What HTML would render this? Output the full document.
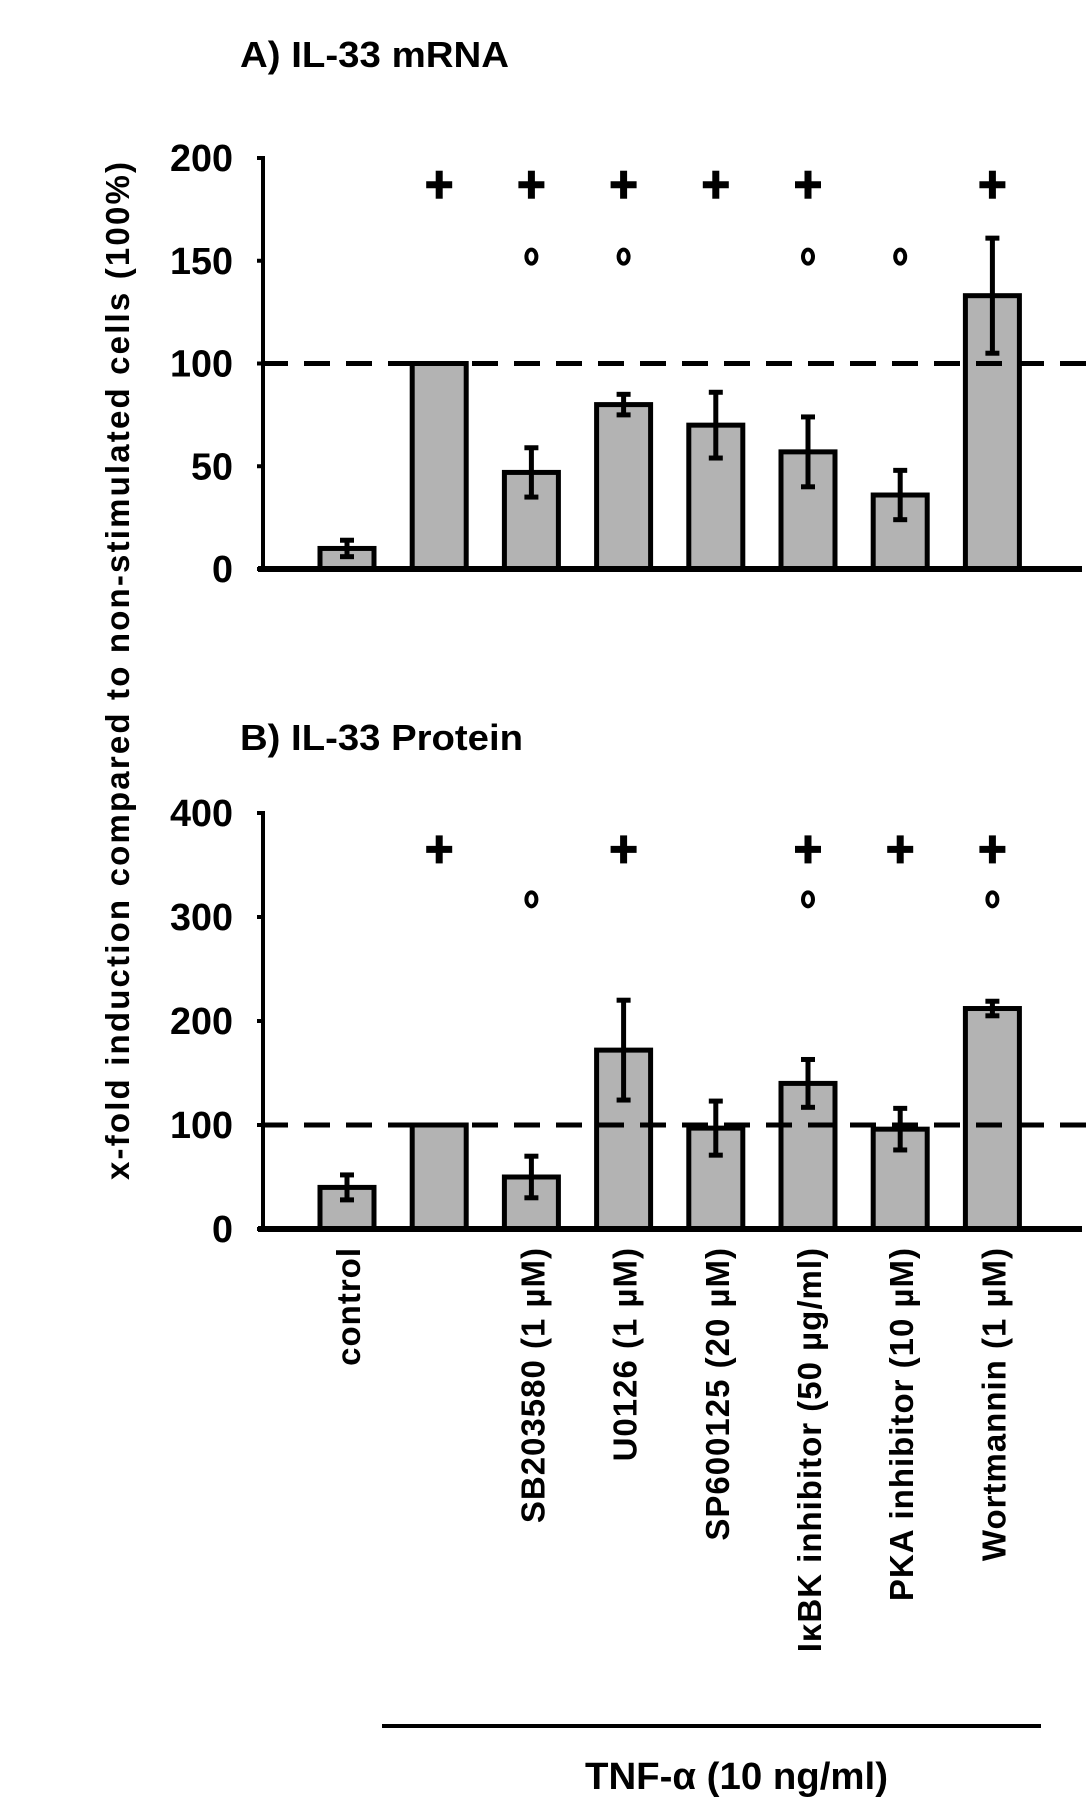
<!DOCTYPE html>
<html><head><meta charset="utf-8"><style>
html,body{margin:0;padding:0;background:#fff}
svg{display:block}
text{font-family:"Liberation Sans",Arial,sans-serif;font-weight:bold;fill:#000}
</style></head><body>
<svg id="chart" width="1087" height="1807" viewBox="0 0 1087 1807"></svg>
<script>
const categories = ["control","","SB203580 (1 µM)","U0126 (1 µM)","SP600125 (20 µM)","IκBK inhibitor (50 µg/ml)","PKA inhibitor (10 µM)","Wortmannin (1 µM)"];
const mrnaValues = [10,100,47,80,70,57,36,133];
const mrnaErrors = [4,0,12,5,16,17,12,28];
const mrnaPlus = [0,1,1,1,1,1,0,1];
const mrnaCircle = [0,0,1,1,0,1,1,0];
const mrnaTicks = [0,50,100,150,200];
const protValues = [40,100,50,172,97,140,96,212];
const protErrors = [12,0,20,48,26,23,20,7];
const protPlus = [0,1,0,1,0,1,1,1];
const protCircle = [0,0,1,0,0,1,0,1];
const protTicks = [0,100,200,300,400];

const NS="http://www.w3.org/2000/svg";
const svg=document.getElementById('chart');
function mk(tag,attrs,parent){const e=document.createElementNS(NS,tag);for(const k in attrs)e.setAttribute(k,attrs[k]);(parent||svg).appendChild(e);return e;}
function xPos(i){return 347+i*92.2;}

function panel(key,title,titleY,y0,y1,maxV,vals,errs,plus,circ,ticks,plusV,circV){
  const g=mk('g',{});
  
  
  const yS=v=>y0-(v/maxV)*(y0-y1);
  const t=mk('text',{x:240,y:titleY,'font-size':36,textLength:title.length>14?283:269,lengthAdjust:'spacingAndGlyphs'},g);
  t.textContent=title;
  
  
  vals.forEach((v,i)=>{
    const x=xPos(i);
    const r=mk('rect',{x:x-27,y:yS(v),width:54,height:y0-yS(v),fill:'#b3b3b3',stroke:'#000','stroke-width':5},g);
    
    
    if(errs[i]>0){
      const eg=mk('g',{stroke:'#000','stroke-width':5},g);
      
      
      mk('line',{x1:x,x2:x,y1:yS(v-errs[i]),y2:yS(v+errs[i])},eg);
      mk('line',{x1:x-7,x2:x+7,y1:yS(v-errs[i]),y2:yS(v-errs[i])},eg);
      mk('line',{x1:x-7,x2:x+7,y1:yS(v+errs[i]),y2:yS(v+errs[i])},eg);
    }
    if(plus[i]){
      const p=mk('g',{stroke:'#000','stroke-width':7},g);
      
      
      const py=yS(plusV);
      mk('line',{x1:x-13,x2:x+13,y1:py,y2:py},p);
      mk('line',{x1:x,x2:x,y1:py-14,y2:py+14},p);
    }
    if(circ[i]){
      const c=mk('ellipse',{cx:x,cy:yS(circV),rx:5,ry:7,fill:'none',stroke:'#000','stroke-width':4},g);
      
      
    }
  });
  const d=mk('line',{x1:262,x2:1087,y1:yS(100),y2:yS(100),stroke:'#000','stroke-width':5,'stroke-dasharray':'26 16'},g);
  
  
  const ya=mk('line',{x1:263,x2:263,y1:y1-2,y2:y0,stroke:'#000','stroke-width':4},g);
  
  
  const xa=mk('line',{x1:258,x2:1082,y1:y0,y2:y0,stroke:'#000','stroke-width':6},g);
  
  
  ticks.forEach(tv=>{
    const ty=yS(tv);
    mk('line',{x1:257,x2:263,y1:ty,y2:ty,stroke:'#000','stroke-width':4},g);
    const s=String(tv);
    const tl=mk('text',{x:233,y:ty+13,'font-size':38,'text-anchor':'end',textLength:21*s.length,lengthAdjust:'spacingAndGlyphs'},g);
    tl.textContent=s;
    
    
  });
}
panel('mrna','A) IL-33 mRNA',67,569,158,200,mrnaValues,mrnaErrors,mrnaPlus,mrnaCircle,mrnaTicks,187,152);
panel('protein','B) IL-33 Protein',750,1229,813,400,protValues,protErrors,protPlus,protCircle,protTicks,365,317);

categories.forEach((c,i)=>{
  if(!c)return;
  const x=xPos(i)+13;
  const t=mk('text',{x:0,y:0,'font-size':33,'letter-spacing':'1','text-anchor':'end',transform:'translate('+x+',1247) rotate(-90)'});
  t.textContent=c;
  
  
});
const yt=mk('text',{x:0,y:0,'font-size':33,'text-anchor':'middle',textLength:1018,lengthAdjust:'spacing',transform:'translate(129,671) rotate(-90)'});
yt.textContent='x-fold induction compared to non-stimulated cells (100%)';


const bl=mk('line',{x1:382,x2:1041,y1:1726,y2:1726,stroke:'#000','stroke-width':4});


const tt=mk('text',{x:585,y:1789,'font-size':38,textLength:303,lengthAdjust:'spacingAndGlyphs'});
tt.textContent='TNF-α (10 ng/ml)';


</script>
</body></html>
